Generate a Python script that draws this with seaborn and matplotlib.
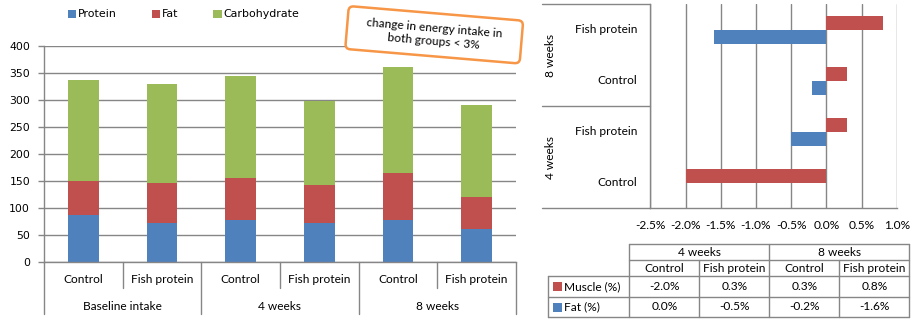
import numpy as np
import pandas as pd
import matplotlib
matplotlib.use("Agg")
import matplotlib.pyplot as plt
import seaborn as sns
from matplotlib import transforms
from matplotlib.patches import Rectangle, FancyBboxPatch

# ---- data -------------------------------------------------------------
periods = ["Baseline intake", "4 weeks", "8 weeks"]
arms = ["Control", "Fish protein"]
nutrients = ["Protein", "Fat", "Carbohydrate"]
protein = [87, 73, 79, 73, 79, 62]
fat = [64, 74, 77, 70, 86, 59]
carbohydrate = [186, 183, 189, 156, 196, 170]
intake_ticks = [0, 50, 100, 150, 200, 250, 300, 350, 400]

body_periods = ["4 weeks", "8 weeks"]
measures = ["Muscle (%)", "Fat (%)"]
muscle_change = [-2.0, 0.3, 0.3, 0.8]   # 4w Control, 4w Fish, 8w Control, 8w Fish
fat_change = [0.0, -0.5, -0.2, -1.6]
change_ticks = [-2.5, -2.0, -1.5, -1.0, -0.5, 0.0, 0.5, 1.0]

note_text = "change in energy intake in\nboth groups < 3%"

# ---- style ------------------------------------------------------------
BLUE, RED, GREEN = "#4F81BD", "#C0504D", "#9BBB59"
GRID = "#868686"
ORANGE = "#F79646"
TXT = "#000000"

sns.set_theme(style="white")
plt.rcParams["font.family"] = ["DejaVu Sans"]
LABEL_FONT = ["Lato", "DejaVu Sans"]
LABEL_SIZE = 8.6

W, H = 916, 325
fig = plt.figure(figsize=(W / 100, H / 100), dpi=100)
fig.patch.set_facecolor("white")


def rect(x0, y0, x1, y1):
    return [x0 / W, 1 - y1 / H, (x1 - x0) / W, (y1 - y0) / H]


# ---- stacked intake bars ---------------------------------------------
ax1 = fig.add_axes(rect(44.3, 46.3, 515.7, 262.3))
keys = [f"{p}\n{a}" for p in periods for a in arms]
df1 = pd.DataFrame({"key": keys, "Protein": protein, "Fat": fat,
                    "Carbohydrate": carbohydrate})
df1["upto_fat"] = df1["Protein"] + df1["Fat"]
df1["total"] = df1["upto_fat"] + df1["Carbohydrate"]

for col, color in [("total", GREEN), ("upto_fat", RED), ("Protein", BLUE)]:
    sns.barplot(data=df1, x="key", y=col, color=color, width=0.39,
                saturation=1, errorbar=None, ax=ax1, linewidth=0, zorder=2)

ax1.set_xlim(-0.5, 5.5)
ax1.set_ylim(0, 400)
ax1.set_xlabel("")
ax1.set_ylabel("")
ax1.set_yticks(intake_ticks)
ax1.set_xticks(range(len(keys)))
ax1.set_xticklabels([])
ax1.tick_params(axis="x", length=0)
ax1.tick_params(axis="y", length=4, width=1, color=GRID, pad=6.2,
                labelsize=7.8, labelcolor=TXT, left=True)
ax1.yaxis.grid(True, color=GRID, lw=1)
ax1.xaxis.grid(False)
ax1.set_axisbelow(True)
for s in ["top", "right"]:
    ax1.spines[s].set_visible(False)
for s in ["left", "bottom"]:
    ax1.spines[s].set_color(GRID)
    ax1.spines[s].set_linewidth(1)

trans1 = ax1.get_xaxis_transform()
ax1_h = 216.0


def fy(py):
    return -(py - 262.3) / ax1_h


for i, key in enumerate(keys):
    ax1.text(i, fy(279.5), key.split("\n")[1], transform=trans1, ha="center",
             va="center", fontsize=LABEL_SIZE, family=LABEL_FONT, color=TXT)
for j, p in enumerate(periods):
    ax1.text(2 * j + 0.5, fy(306), p, transform=trans1, ha="center",
             va="center", fontsize=LABEL_SIZE, family=LABEL_FONT, color=TXT)
for j in range(len(periods) + 1):
    x = 2 * j - 0.5
    ax1.plot([x, x], [0, fy(314.3)], transform=trans1, color=GRID, lw=1,
             clip_on=False)
for j in range(len(periods)):
    x = 2 * j + 0.5
    ax1.plot([x, x], [0, fy(288.3)], transform=trans1, color=GRID, lw=1,
             clip_on=False)

# ---- body composition change bars ------------------------------------
ax2 = fig.add_axes(rect(650.3, 4.3, 896.7, 208.3))
body_keys = [f"{p}\n{a}" for p in body_periods for a in arms]
df2 = pd.DataFrame({
    "cat": body_keys * 2,
    "measure": [measures[0]] * 4 + [measures[1]] * 4,
    "value": muscle_change + fat_change,
})
order = body_keys[::-1]
sns.barplot(data=df2, x="value", y="cat", hue="measure", hue_order=measures,
            palette=[RED, BLUE], order=order, orient="h", width=0.56,
            saturation=1, errorbar=None, legend=False, ax=ax2, linewidth=0,
            zorder=2)
ax2.set_xlim(-2.5, 1.0)
ax2.set_ylim(3.5, -0.5)
ax2.set_xlabel("")
ax2.set_ylabel("")
ax2.set_xticks(change_ticks)
ax2.set_xticklabels([f"{t:.1f}%" for t in change_ticks])
ax2.set_yticks([])
ax2.tick_params(axis="x", length=0, pad=8.5, labelsize=LABEL_SIZE,
                labelcolor=TXT)
for lab in ax2.get_xticklabels():
    lab.set_family(LABEL_FONT)
ax2.xaxis.grid(True, color=GRID, lw=1)
ax2.yaxis.grid(False)
ax2.set_axisbelow(True)
for s in ["top", "right"]:
    ax2.spines[s].set_visible(False)
for s in ["left", "bottom"]:
    ax2.spines[s].set_color(GRID)
    ax2.spines[s].set_linewidth(1)

trans2 = transforms.blended_transform_factory(ax2.transAxes, ax2.transData)
ax2_w = 246.4


def fx(px):
    return (px - 650.3) / ax2_w


for k, cat in enumerate(order):
    ax2.text(fx(637.3), k, cat.split("\n")[1], transform=trans2, ha="right",
             va="center", fontsize=LABEL_SIZE, family=LABEL_FONT, color=TXT)
for p in body_periods:
    idx = [k for k, c in enumerate(order) if c.startswith(p)]
    ax2.text(fx(550.7), np.mean(idx), p, transform=trans2, ha="center",
             va="center", rotation=90, fontsize=LABEL_SIZE, family=LABEL_FONT,
             color=TXT)
for yb in [-0.5, 1.5, 3.5]:
    ax2.plot([fx(541.7), 0], [yb, yb], transform=trans2, color=GRID, lw=1,
             clip_on=False)

# ---- overlay: legend, note, data table --------------------------------
ov = fig.add_axes([0, 0, 1, 1], zorder=5)
ov.set_xlim(0, W)
ov.set_ylim(H, 0)
ov.axis("off")
ov.patch.set_alpha(0)

for name, color, x0 in zip(nutrients, [BLUE, RED, GREEN], [67.7, 151.7, 213.0]):
    ov.add_patch(Rectangle((x0, 10), 8.5, 8, facecolor=color, edgecolor="none"))
    ov.text(x0 + 10.5, 14.2, name, ha="left", va="center", fontsize=7.9,
            color=TXT)

cx, cy, bw, bh, ang = 434.2, 34.8, 175.0, 43.0, 4.8
box = FancyBboxPatch((cx - bw / 2, cy - bh / 2), bw, bh,
                     boxstyle="round,pad=0,rounding_size=5",
                     facecolor="white", edgecolor=ORANGE, linewidth=1.8)
box.set_transform(transforms.Affine2D().rotate_deg_around(cx, cy, ang)
                  + ov.transData)
ov.add_patch(box)
ov.text(cx, cy, note_text, ha="center", va="center", rotation=-ang,
        rotation_mode="anchor", fontsize=LABEL_SIZE, family=LABEL_FONT,
        color=TXT, linespacing=1.35, multialignment="center")

# table grid
col_x = [629.3, 699.3, 769.3, 839.3, 909.3]
row_y = [244.0, 260.0, 276.0, 296.7, 317.3]
leg_x = 548.3
lkw = dict(color=GRID, lw=1)
ov.plot([col_x[0], col_x[-1]], [row_y[0]] * 2, **lkw)
ov.plot([col_x[0], col_x[-1]], [row_y[1]] * 2, **lkw)
for yy in row_y[2:]:
    ov.plot([leg_x, col_x[-1]], [yy, yy], **lkw)
ov.plot([leg_x, leg_x], [row_y[2], row_y[4]], **lkw)
for k, xx in enumerate(col_x):
    top = row_y[0] if k % 2 == 0 else row_y[1]
    ov.plot([xx, xx], [top, row_y[4]], **lkw)

tkw = dict(fontsize=LABEL_SIZE, family=LABEL_FONT, color=TXT, va="center")
for j, p in enumerate(body_periods):
    ov.text((col_x[2 * j] + col_x[2 * j + 2]) / 2, (row_y[0] + row_y[1]) / 2,
            p, ha="center", **tkw)
for k in range(4):
    xm = (col_x[k] + col_x[k + 1]) / 2
    ov.text(xm, (row_y[1] + row_y[2]) / 2, arms[k % 2], ha="center", **tkw)
    ov.text(xm, (row_y[2] + row_y[3]) / 2, f"{muscle_change[k]:.1f}%",
            ha="center", **tkw)
    ov.text(xm, (row_y[3] + row_y[4]) / 2, f"{fat_change[k]:.1f}%",
            ha="center", **tkw)
for r, (name, color) in enumerate(zip(measures, [RED, BLUE])):
    ym = (row_y[2 + r] + row_y[3 + r]) / 2
    ov.add_patch(Rectangle((553.3, ym - 4.5), 9, 9, facecolor=color,
                           edgecolor="none"))
    ov.text(564.5, ym, name, ha="left", **tkw)

fig.savefig("out.png", dpi=100)
